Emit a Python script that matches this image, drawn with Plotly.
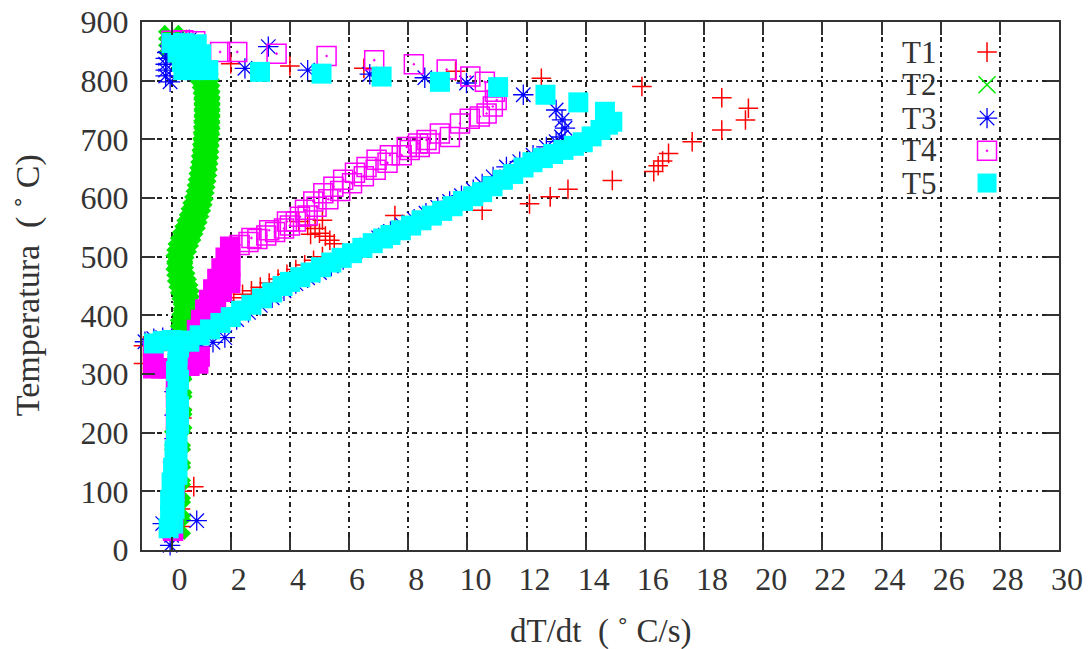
import plotly.graph_objects as go

# ---------------- data (dT/dt in C/s, Temperature in C) ----------------
t1_x = [0.3, 0.3, 0.35, 0.3, 0.3, 0.3, 0.35, 0.35, 0.3, 0.2, 0.75,
        -0.5, -0.95, -0.95, 0.05,
        1.2, 1.5, 1.8, 2.1, 2.4, 2.7, 3.0, 3.3, 3.6, 3.9, 4.2, 4.5, 4.8, 5.1,
        4.3, 4.6, 4.85, 5.1, 5.0, 5.2, 5.35, 5.5, 4.7,
        7.55, 10.5, 12.1, 12.8, 13.4, 14.9, 16.3, 16.45, 16.6, 16.8, 17.6, 18.6,
        19.4, 19.5, 18.6, 15.9, 12.5, 9.6, 6.5, 4.0, 2.0, 1.2,
        0.3, 0.0, 0.5]
t1_y = [40, 70, 100, 140, 170, 200, 225, 240, 270, 300, 108,
        340, 348, 318, 370,
        410, 418, 425, 430, 436, 442, 448, 455, 462, 470, 478, 486, 494, 500,
        560, 553, 548, 562, 540, 535, 528, 522, 538,
        570, 579, 590, 602, 615, 630, 645, 655, 663, 676, 696, 716,
        733, 753, 771, 790, 804, 816, 821, 825, 829, 830,
        845, 860, 870]

t2_x = [0.2, 0.2, 0.2, 0.2, 0.2, 0.2, 0.25, 0.25, 0.25, 0.25, 0.3, 0.35,
        0.45, 0.4, 0.4, 0.45, 0.5, 0.5, 0.5, 0.5, 0.45, 0.4, 0.35, 0.3, 0.28,
        0.25, 0.28, 0.32, 0.4, 0.47, 0.55, 0.62, 0.7, 0.76, 0.82, 0.88, 0.93,
        0.97, 1.0, 1.03, 1.06, 1.09, 1.11, 1.13, 1.15, 1.16, 1.17, 1.18, 1.19,
        1.2, 1.2, 1.2, 1.2, 1.2, 1.19, 1.17, 1.14, 1.08, 0.95,
        0.6, 0.3, 0.0, 0.0]
t2_y = [40, 70, 100, 130, 160, 190, 220, 250, 280, 310, 330, 345,
        360, 370, 380, 390, 400, 410, 420, 430, 440, 450, 460, 470, 480,
        490, 500, 510, 520, 530, 540, 550, 560, 570, 580, 590, 600,
        610, 620, 630, 640, 650, 660, 670, 680, 690, 700, 710, 720,
        730, 740, 750, 760, 770, 780, 790, 800, 810, 820,
        835, 848, 860, 872]

t3_x = [-0.05, -0.3, 0.85, 0.0, 0.0, 0.05, 0.05, 0.1, 0.1, 0.1, 0.1,
        -0.9, -0.6, -0.3, 0.0,
        1.0, 1.4, 1.8, 2.2, 2.6, 3.0, 3.4, 3.8, 4.2, 4.6, 5.0, 5.4, 5.8,
        6.2, 6.6, 7.0, 7.4, 7.8, 8.2, 8.6, 9.0, 9.4, 9.8, 10.2, 10.5, 10.87,
        11.32, 11.77, 12.22, 12.67, 13.0, 13.18, 13.3, 13.2, 13.0, 11.89,
        9.97, 8.56, 6.7, 4.6, 2.48, 3.27,
        -0.05, -0.2, -0.2, -0.2, -0.2, -0.15, 0.0, 0.3, 0.6]
t3_y = [8, 45, 50, 25, 70, 110, 150, 190, 230, 270, 310,
        355, 360, 362, 360,
        347, 354, 362, 393, 405, 417, 430, 442, 454, 464, 473, 484, 495,
        508, 520, 532, 543, 554, 564, 574, 584, 594, 604, 614, 624, 636,
        653, 662, 673, 687, 696, 704, 719, 733, 750, 776,
        796, 805, 811, 818, 821, 858,
        798, 808, 818, 828, 838, 848, 858, 866, 870]

# T4: lower part (points packed so tightly that they fuse into a solid patch)
t4_low_x = [0.05, 0.05, 0.1, 0.15, 0.15, 0.15, 0.15, 0.15,
            -0.62, -0.62, -0.62, -0.35, -0.1, 0.6, 0.9, 0.95,
            0.86, 1.0, 1.14, 1.27, 1.41, 1.55, 1.69, 1.83, 1.98,
            1.98, 1.98, 1.98, 1.98, 1.7, 1.5, 1.2]
t4_low_y = [33, 60, 100, 140, 180, 220, 260, 290,
            310, 325, 340, 310, 310, 314, 318, 330,
            375, 392, 410, 426, 444, 462, 480, 498, 517,
            500, 483, 466, 455, 440, 420, 395]
# T4: upper part (individual open squares)
t4_up_x = [2.3, 2.6, 2.9, 3.2, 3.5, 3.8, 4.0, 4.2, 2.7, 3.3, 3.9,
           4.34, 4.51, 4.79, 5.13, 5.47, 5.8, 6.2, 6.59, 6.93, 7.38, 7.95, 8.33,
           8.62, 9.07, 9.75, 10.08, 10.42, 10.65, 10.86, 10.99,
           4.6, 4.9, 5.3, 5.7, 6.1, 6.5, 6.9, 7.3, 7.78, 8.05, 8.39, 8.73, 9.41,
           10.93, 10.59, 10.1, 9.3, 8.19, 6.85, 5.24, 3.55, 2.22, 1.64,
           0.0, 0.4, 0.8]
t4_up_y = [520, 525, 530, 536, 542, 548, 553, 560, 532, 545, 560,
           568, 580, 594, 608, 619, 631, 643, 653, 665, 673, 687, 693,
           699, 710, 727, 735, 739, 744, 756, 767,
           570, 585, 598, 612, 625, 637, 648, 660, 673, 682, 687, 693, 704,
           781, 798, 807, 819, 828, 835, 842, 846, 849, 849,
           868, 869, 867]
t4_x = t4_low_x + t4_up_x
t4_y = t4_low_y + t4_up_y

t5_x = [-0.1, 0.05, -0.05, 0.1, -0.05, 0.1, 0.0, 0.2, 0.05, 0.2, 0.1, 0.2,
        0.15, 0.25, 0.15, 0.25, 0.15, 0.2, 0.25, 0.15, 0.2, 0.2, 0.25,
        -0.6, -0.3, 0.0, 0.3,
        0.6, 0.95, 1.3, 1.65, 2.0, 2.35, 2.7, 3.05, 3.4, 3.75, 4.0,
        4.35, 4.7, 5.05, 5.4, 5.75, 6.1, 6.45, 6.8, 7.15, 7.4,
        7.75, 8.1, 8.45, 8.8, 9.15, 9.5, 9.85, 10.2, 10.5,
        10.85, 11.2, 11.55, 11.9, 12.2, 12.55, 12.9, 13.25, 13.6, 13.9,
        14.2, 14.5, 14.75, 14.9, 14.65,
        13.75, 12.64, 11.04, 9.07, 7.1, 5.07, 2.99, 1.24,
        0.0, 0.4, 0.85, 0.2, 0.65, 1.0, 0.35, 0.8, 0.4, 0.75]
t5_y = [37, 45, 60, 70, 85, 100, 115, 128, 140, 155, 170, 185,
        200, 215, 230, 245, 260, 275, 290, 305, 318, 332, 345,
        352, 356, 358, 357,
        355, 366, 376, 387, 397, 408, 418, 429, 439, 450, 457,
        465, 473, 482, 490, 498, 506, 515, 523, 531, 537,
        545, 553, 562, 570, 578, 586, 595, 603, 610,
        620, 631, 641, 652, 661, 668, 675, 682, 689, 695,
        705, 716, 725, 730, 747,
        763, 776, 789, 798, 807, 812, 815, 818,
        864, 864, 862, 848, 848, 845, 832, 830, 818, 818]

names = ["T1", "T2", "T3", "T4", "T5"]
xs = [t1_x, t2_x, t3_x, t4_x, t5_x]
ys = [t1_y, t2_y, t3_y, t4_y, t5_y]
x_ticks = list(range(0, 31, 2))
y_ticks = list(range(0, 901, 100))

# ---------------- styles ----------------
RED, GREEN, BLUE, MAG, CYAN = "#ff0000", "#00e800", "#0000ff", "#ff00ff", "#00ffff"
t4_symbols = ["square"] * len(t4_low_x) + ["square-open-dot"] * len(t4_up_x)
plot_styles = [
    dict(symbol="cross-thin", size=14, color=RED, line=dict(color=RED, width=1.5)),
    dict(symbol="x", size=24, color=GREEN, line=dict(width=0)),
    dict(symbol="asterisk", size=17, color=BLUE, line=dict(color=BLUE, width=1.3)),
    dict(symbol=t4_symbols, size=19, color=MAG, line=dict(color=MAG, width=1.5)),
    dict(symbol="square", size=20, color=CYAN, line=dict(width=0)),
]
legend_styles = [
    dict(symbol="cross-thin", size=14, color=RED, line=dict(color=RED, width=1.5)),
    dict(symbol="x-thin", size=17, color=GREEN, line=dict(color=GREEN, width=1.5)),
    dict(symbol="asterisk", size=17, color=BLUE, line=dict(color=BLUE, width=1.3)),
    dict(symbol="square-open-dot", size=19, color=MAG, line=dict(color=MAG, width=1.5)),
    dict(symbol="square", size=19, color=CYAN, line=dict(width=0)),
]

fig = go.Figure()
for n, x, y, st in zip(names, xs, ys, plot_styles):
    fig.add_trace(go.Scatter(x=x, y=y, mode="markers", name=n, marker=st, cliponaxis=False))

# legend (text on the left, symbol on the right, as in the reference)
leg_y = [0.943, 0.881, 0.818, 0.756, 0.695]
for n, st, ly in zip(names, legend_styles, leg_y):
    fig.add_trace(go.Scatter(x=[0.9215], y=[ly], mode="markers", marker=st,
                             xaxis="x2", yaxis="y2", cliponaxis=False, showlegend=False,
                             hoverinfo="skip"))
    fig.add_annotation(x=0.8266, y=ly, xref="paper", yref="paper", text=n,
                       showarrow=False, xanchor="left", yanchor="middle",
                       font=dict(size=31))

axis_common = dict(
    ticks="inside", ticklen=13, tickwidth=2, tickcolor="#333",
    showline=True, linewidth=2, linecolor="#333", mirror="allticks",
    showgrid=True, gridcolor="#222", gridwidth=1.5, griddash="5px,4px,2px,4px",
    zeroline=False, automargin=False,
)

fig.update_layout(
    width=1091, height=649,
    margin=dict(l=142, r=32, t=22, b=99),
    plot_bgcolor="white", paper_bgcolor="white",
    showlegend=False,
    font=dict(family="Liberation Serif, Times New Roman, serif", size=32, color="#333"),
    xaxis=dict(range=[-1, 30], tickvals=x_ticks, ticktext=[str(v) for v in x_ticks],
               ticklabelshift=8, ticklabelstandoff=0, **axis_common),
    yaxis=dict(range=[0, 900], tickvals=y_ticks, ticktext=[str(v) for v in y_ticks],
               ticklabelstandoff=5, **axis_common),
    xaxis2=dict(overlaying="x", range=[0, 1], visible=False),
    yaxis2=dict(overlaying="y", range=[0, 1], visible=False),
)

fig.add_annotation(x=0.4995, y=-0.155, xref="paper", yref="paper", text="dT/dt  ( ˚ C/s)",
                   showarrow=False, xanchor="center", yanchor="middle", font=dict(size=33))
fig.add_annotation(x=-0.124, y=0.502, xref="paper", yref="paper", text="Temperatura  ( ˚ C)",
                   showarrow=False, xanchor="center", yanchor="middle", textangle=-90,
                   font=dict(size=34))

fig.write_html("out.html", config={"displayModeBar": False},
               post_script="document.body.style.margin='0px';")
